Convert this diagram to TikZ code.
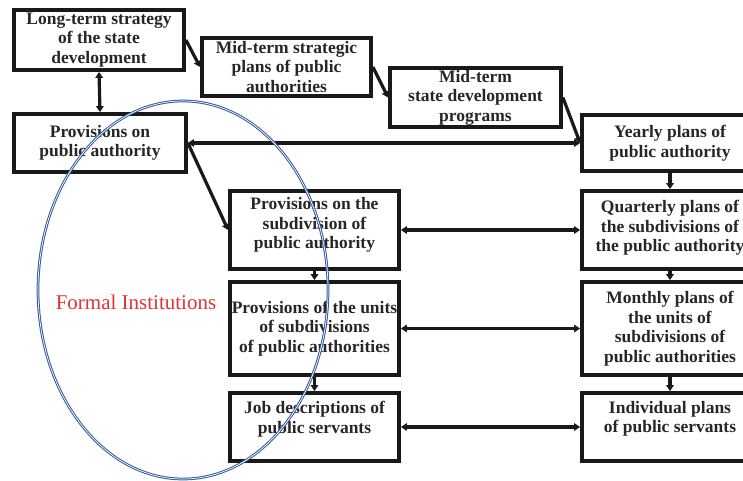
\documentclass[tikz,border=0pt]{standalone}
\usepackage{fontspec}
\setmainfont{Liberation Serif}
\usetikzlibrary{arrows.meta}
\definecolor{ellblue}{RGB}{50,90,155}
\definecolor{instred}{RGB}{225,50,50}
\tikzset{
  box/.style={draw=black!90, line width=3.8pt, inner sep=0pt, align=center,
    font=\bfseries\fontsize{17.5}{19.5}\selectfont, text=black!85},
  conn/.style={line width=3.2pt, draw=black!90, -{Triangle[length=6pt,width=7.5pt]}},
  dconn/.style={line width=3.2pt, draw=black!90, {Triangle[length=6pt,width=7.5pt]}-{Triangle[length=6pt,width=7.5pt]}},
  txt/.style={inner sep=0pt, align=center, font=\bfseries\fontsize{17.5}{19.5}\selectfont, text=black!85}
}
\begin{document}
\begin{tikzpicture}[x=1pt,y=-1pt]
\useasboundingbox (0,0) rectangle (743,481);
\clip (0,0) rectangle (743,481);
% boxes
\node[box, minimum width=170pt, minimum height=60pt] (lt) at (99,40) {Long-term strategy\\of the state\\development};
\node[box, minimum width=169pt, minimum height=58pt] (ms) at (286.5,67) {Mid-term strategic\\plans of public\\authorities};
\node[box, minimum width=171pt, minimum height=59pt] (md) at (475.5,97.5) {Mid-term\\state development\\programs};
\node[box, minimum width=176pt, minimum height=56pt] (yp) at (670,143) {Yearly plans of\\public authority};
\node[box, minimum width=172pt, minimum height=58pt] (pa) at (100,143) {Provisions on\\public authority};
\node[box, minimum width=169pt, minimum height=78pt] (ps) at (314.5,230) {};
\node[txt] at ([yshift=5pt]ps.center) {Provisions on the\\subdivision of\\public authority};
\node[box, minimum width=169pt, minimum height=93pt] (pu) at (314.5,328.5) {Provisions of the units\\of subdivisions\\of public authorities};
\node[box, minimum width=169pt, minimum height=68pt] (jd) at (314.5,427) {};
\node[txt] at ([yshift=8pt]jd.center) {Job descriptions of\\public servants};
\node[box, minimum width=176pt, minimum height=78pt] (qp) at (670,230) {};
\node[txt] at ([yshift=2pt]qp.center) {Quarterly plans of\\the subdivisions of\\the public authority};
\node[box, minimum width=176pt, minimum height=93pt] (mp) at (670,328.5) {Monthly plans of\\the units of\\subdivisions of\\public authorities};
\node[box, minimum width=176pt, minimum height=68pt] (ip) at (670,427) {};
\node[txt] at ([yshift=8pt]ip.center) {Individual plans\\of public servants};
% connectors
\draw[dconn] (lt.south) -- (pa.north);
\draw[conn] (lt.east) -- (ms.west);
\draw[conn] (ms.east) -- (md.west);
\draw[conn] (md.east) -- (yp.west);
\draw[dconn] (pa.east) -- (yp.west);
\draw[conn] (pa.east) -- (ps.west);
\draw[conn] (ps.south) -- (pu.north);
\draw[conn] (pu.south) -- (jd.north);
\draw[conn] (yp.south) -- (qp.north);
\draw[conn] (qp.south) -- (mp.north);
\draw[conn] (mp.south) -- (ip.north);
\draw[dconn] (ps.east) -- (qp.west);
\draw[dconn] (pu.east) -- (mp.west);
\draw[dconn] (jd.east) -- (ip.west);
% ellipse and label
\node[inner sep=0pt, text=instred, font=\fontsize{21}{24}\selectfont] (fi) at (136,302) {Formal Institutions};
\draw[draw=ellblue, line width=1pt, double=white, double distance=0.7pt] (183,290) ellipse [x radius=145pt, y radius=189pt];
\end{tikzpicture}
\end{document}
